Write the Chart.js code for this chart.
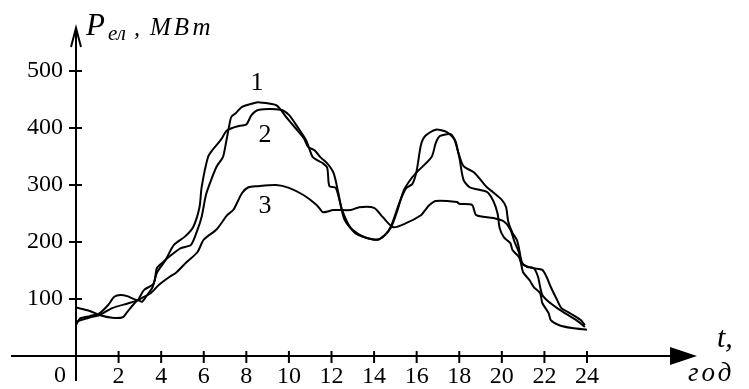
<!DOCTYPE html>
<html><head><meta charset="utf-8">
<script src="https://cdn.jsdelivr.net/npm/chart.js@4.4.0/dist/chart.umd.min.js"></script>
<style>html,body{margin:0;padding:0;background:#fff;}#wrap{width:749px;height:389px;}</style>
</head><body><div id="wrap"><canvas id="c" width="749" height="389"></canvas></div>
<script>
// ---- data (hours, MW) ----
const hours1 = [0,0.2,0.65,1.1,1.5,1.8,2.1,2.4,2.9,3.0,3.2,3.6,3.7,3.8,4.1,4.3,4.9,5.4,5.7,5.9,6.1,6.3,6.6,6.9,7.05,7.2,7.3,7.5,7.8,8.3,8.6,9.4,9.9,10.3,10.7,10.9,11.2,11.5,11.8,12.1,12.3,12.6,13.1,13.6,14.1,14.5,14.8,15.2,15.5,15.8,16.0,16.2,16.4,16.9,17.4,17.8,17.95,18.2,18.7,19.3,19.6,20.0,20.2,20.3,20.5,20.7,20.8,20.9,21.0,21.5,21.9,22.1,22.3,22.6,22.8,23.2,23.7,23.9];
const load1  = [54,66,70,75,89,104,107,105,98,104,116,125,133,154,165,172,189,195,221,244,282,304,332,349,375,405,420,426,437,443,445,440,418,400,382,367,361,348,338,321,290,240,216,208,204,212,228,270,294,302,325,370,386,397,393,379,358,333,322,296,287,274,261,236,216,204,190,170,160,154,151,139,121,98,84,75,63,54];

const hours2 = [0,0.65,1.1,1.7,2.2,2.4,2.9,3.1,3.4,3.6,3.8,4.2,4.6,5.1,5.5,5.8,5.9,6.2,6.4,6.8,7.1,7.7,8.0,8.25,8.6,9.6,10.0,10.4,10.8,11.1,11.3,11.6,11.8,11.9,12.2,12.5,12.9,13.5,14.2,14.5,14.8,15.1,15.4,15.8,16.1,16.7,16.9,17.1,17.6,17.8,18.0,18.2,18.5,19.3,19.6,19.8,19.9,20.1,20.4,20.5,20.8,20.9,21.2,21.5,21.7,21.8,21.9,22.2,22.6,23.1,23.5,23.9];
const load2  = [85,79,72,67,68,77,98,95,110,121,146,168,195,209,226,261,296,349,361,379,396,404,406,423,432,432,423,402,379,350,344,338,330,298,295,256,225,209,204,212,226,256,291,314,326,349,374,386,389,377,349,309,296,288,272,250,224,208,198,186,174,165,156,154,139,121,107,95,84,72,63,51];

const hours3 = [0,0.6,1.1,1.7,2.5,2.9,3.1,3.5,3.9,4.4,4.7,5.2,5.7,6.0,6.6,7.1,7.4,7.8,8.1,8.5,9.4,10.0,10.7,11.3,11.5,11.6,12.1,12.9,13.3,14.0,14.4,14.9,15.5,16.2,16.4,16.6,16.9,17.9,18.0,18.6,18.8,19.6,20.1,20.4,20.6,20.8,20.9,21.0,21.3,21.5,21.8,21.9,22.2,22.3,22.7,23.3,24.0];
const load3  = [60,67,72,84,93,98,102,110,125,139,146,165,182,204,222,247,257,286,296,298,300,295,282,265,256,252,256,256,261,260,244,226,233,247,256,265,272,270,267,265,247,242,236,222,200,182,163,147,133,121,110,93,75,63,54,49,46];

const xTicks = [0,2,4,6,8,10,12,14,16,18,20,22,24];
const yTicks = [100,200,300,400,500];
const curveNames = ['1','2','3'];
const curveLabelHours = [8.5, 8.88, 8.88];
const curveLabelLoads = [467, 375, 251];

function pts(h, v){ return h.map((x,i)=>({x:x, y:v[i]})); }

const SERIF = '"Liberation Serif","Times New Roman",serif';

const axesPlugin = {
  id:'axesPlugin',
  afterDraw(chart){
    const ctx = chart.ctx, xs = chart.scales.x, ys = chart.scales.y;
    const x0 = xs.getPixelForValue(0), y0 = ys.getPixelForValue(0);
    ctx.save();
    ctx.strokeStyle = '#000'; ctx.fillStyle = '#000'; ctx.lineWidth = 2; ctx.lineCap='butt';
    // x axis with filled arrow
    ctx.beginPath(); ctx.moveTo(11, y0); ctx.lineTo(680, y0); ctx.stroke();
    ctx.beginPath(); ctx.moveTo(697, y0); ctx.lineTo(670, y0-9); ctx.lineTo(670, y0+9); ctx.closePath(); ctx.fill();
    // y axis with open arrow
    ctx.beginPath(); ctx.moveTo(x0, 381); ctx.lineTo(x0, 29); ctx.stroke();
    ctx.beginPath(); ctx.moveTo(x0-5, 47); ctx.lineTo(x0, 28); ctx.lineTo(x0+5, 47); ctx.stroke();
    // tick marks
    xTicks.forEach(t=>{ if(t===0) return; const px = xs.getPixelForValue(t);
      ctx.beginPath(); ctx.moveTo(px, y0-5); ctx.lineTo(px, y0+7); ctx.stroke(); });
    yTicks.forEach(t=>{ const py = ys.getPixelForValue(t);
      ctx.beginPath(); ctx.moveTo(x0-7, py); ctx.lineTo(x0+6, py); ctx.stroke(); });
    // origin label
    ctx.font = '24px ' + SERIF; ctx.textAlign='center'; ctx.textBaseline='alphabetic';
    ctx.fillText('0', x0-16, 382);
    // curve labels
    ctx.font = '26px ' + SERIF;
    curveNames.forEach((n,i)=>{ ctx.fillText(n, xs.getPixelForValue(curveLabelHours[i]), ys.getPixelForValue(curveLabelLoads[i])); });
    // y axis title
    ctx.textAlign='left';
    ctx.font = 'italic 31px ' + SERIF; ctx.fillText('P', 86, 35);
    ctx.font = 'italic 21px ' + SERIF; ctx.fillText('ел', 108, 40);
    ctx.font = 'italic 24px ' + SERIF; ctx.fillText(',', 134, 35);
    try { ctx.letterSpacing = '3px'; } catch(e) {}
    ctx.font = 'italic 25px ' + SERIF; ctx.fillText('МВт', 150, 35);
    // x axis title
    try { ctx.letterSpacing = '0px'; } catch(e) {}
    ctx.font = 'italic 30px ' + SERIF; ctx.fillText('t,', 717, 347);
    try { ctx.letterSpacing = '3px'; } catch(e) {}
    ctx.font = 'italic 27px ' + SERIF; ctx.fillText('год', 688, 381);
    ctx.restore();
  }
};

const ds = (d)=>({data:d, borderColor:'#000', borderWidth:2, pointRadius:0, fill:false, tension:0.25});

new Chart(document.getElementById('c'), {
  type:'line',
  data:{ datasets:[ ds(pts(hours1,load1)), ds(pts(hours2,load2)), ds(pts(hours3,load3)) ] },
  options:{
    responsive:false, animation:false, devicePixelRatio:1,
    layout:{ padding:{left:0, top:71, right:162, bottom:0} },
    plugins:{ legend:{display:false}, tooltip:{enabled:false} },
    scales:{
      x:{ type:'linear', min:0, max:24,
          grid:{display:false, drawTicks:false}, border:{display:false},
          afterBuildTicks:(s)=>{ s.ticks = xTicks.map(v=>({value:v})); },
          afterFit:(s)=>{ s.height = 33; },
          ticks:{ color:'#000', padding:6, maxRotation:0, autoSkip:false,
                  font:{family:SERIF, size:24},
                  callback:(v)=> v===0 ? '' : String(v) } },
      y:{ type:'linear', min:0, max:500,
          grid:{display:false, drawTicks:false}, border:{display:false},
          afterBuildTicks:(s)=>{ s.ticks = yTicks.map(v=>({value:v})); },
          afterFit:(s)=>{ s.width = 76; },
          ticks:{ color:'#000', padding:13, autoSkip:false,
                  font:{family:SERIF, size:24} } }
    }
  },
  plugins:[axesPlugin]
});
</script></body></html>
